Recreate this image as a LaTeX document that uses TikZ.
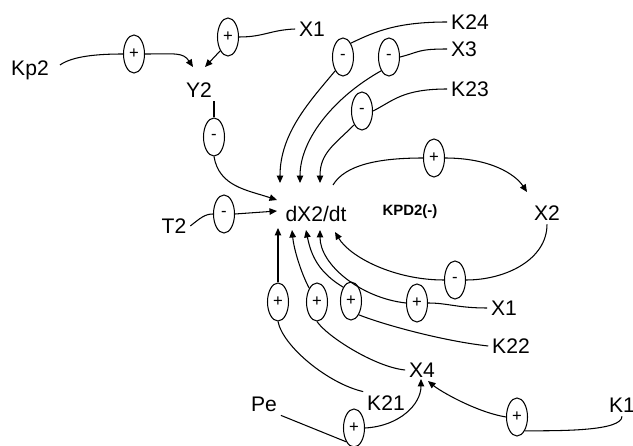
\documentclass[tikz,border=0pt]{standalone}
\usepackage{fontspec}
\setmainfont{Liberation Sans}
\usetikzlibrary{shapes.geometric,arrows.meta}
\begin{document}
\begin{tikzpicture}[x=0.02cm,y=-0.02cm,line width=0.6pt,
  >={Triangle[length=1.5mm,width=1.3mm]},
  lbl/.style={font=\fontsize{12}{14}\selectfont,inner sep=2pt},
  sgn/.style={draw,ellipse,minimum width=0.42cm,minimum height=0.76cm,inner sep=0pt,font=\fontsize{9.5}{9.5}\selectfont}]
\useasboundingbox (0,0) rectangle (633,446);
\node[lbl] (Kp2) at (30,70) {Kp2};
\node[lbl] (X1a) at (312,29) {X1};
\node[lbl] (Y2) at (199,90) {Y2};
\node[lbl] (K24) at (470,22) {K24};
\node[lbl] (X3) at (464,49) {X3};
\node[lbl] (K23) at (470,89) {K23};
\node[lbl] (dX) at (316,214) {dX2/dt};
\node[font=\fontsize{8.5}{9}\selectfont\bfseries] (KPD) at (410,212) {KPD2(-)};
\node[lbl] (X2) at (547,213) {X2};
\node[lbl] (T2) at (174,226) {T2};
\node[lbl] (X1b) at (504,308) {X1};
\node[lbl] (K22) at (511,346) {K22};
\node[lbl] (X4) at (422,370) {X4};
\node[lbl] (K21) at (386,403) {K21};
\node[lbl] (Pe) at (264,404) {Pe};
\node[lbl] (K1) at (622,405) {K1};
\node[sgn] (s1) at (134,54) {+};
\node[sgn] (s2) at (228,37) {+};
\node[sgn] (s3) at (214,137) {-};
\node[sgn] (s4) at (224,214) {-};
\node[sgn] (s5) at (343,57) {-};
\node[sgn] (s6) at (389,57) {-};
\node[sgn] (s7) at (362,111) {-};
\node[sgn] (s8) at (434,158) {+};
\node[sgn] (s9) at (455,280) {-};
\node[sgn] (s10) at (417,303) {+};
\node[sgn] (s11) at (278,302) {+};
\node[sgn] (s12) at (317,302) {+};
\node[sgn] (s13) at (351,301) {+};
\node[sgn] (s14) at (354,428) {+};
\node[sgn] (s15) at (517,417) {+};
\coordinate (tY2a) at (193,67);
\coordinate (tY2b) at (205,67);
\coordinate (tTop1) at (280,183);
\coordinate (tTop2) at (300,183);
\coordinate (tTop3) at (320,183);
\coordinate (tL1) at (277,200);
\coordinate (tL2) at (277,211);
\coordinate (tB1) at (278,228);
\coordinate (tB2) at (292,230);
\coordinate (tB3) at (306,230);
\coordinate (tB4) at (320,230);
\coordinate (tB5) at (335,232);
\coordinate (dXo) at (333,185);
\coordinate (tX2) at (527,192);
\coordinate (tX4a) at (421,379);
\coordinate (tX4b) at (428,381);
\draw[shorten <=5pt] (Kp2.east) .. controls +(20,-14) and +(-25,0) .. (s1.west);
\draw[->] (s1.east) .. controls +(30,0) and +(-10,-15) .. (tY2a);
\draw (X1a.west) .. controls +(-25,1) and +(25,0) .. (s2.east);
\draw[->] (s2.south west) -- (tY2b);
\draw (s3.north) -- (s3.north |- Y2.south);
\draw[->] (s3.south) .. controls +(5,30) and +(-30,-10) .. (tL1);
\draw (T2.east) .. controls +(10,-8) and +(-8,0) .. (s4.west);
\draw[->] (s4.east) -- (tL2);
\draw (K24.west) .. controls +(-50,0) and +(25,-12) .. (s5.north east);
\draw[->] (s5.south west) .. controls +(-25,30) and +(0,-50) .. (tTop1);
\draw (X3.west) .. controls +(-30,0) and +(20,-5) .. (s6.east);
\draw[->] (s6.south west) .. controls +(-45,25) and +(0,-45) .. (tTop2);
\draw (K23.west) .. controls +(-45,0) and +(20,-10) .. (s7.east);
\draw[->] (s7.south west) .. controls +(-20,20) and +(0,-30) .. (tTop3);
\draw (dXo) .. controls +(12,-20) and +(-45,0) .. (s8.west);
\draw[->] (s8.east) .. controls +(45,0) and +(-12,-18) .. (tX2);
\draw (X2.south) .. controls +(0,35) and +(40,0) .. (s9.east);
\draw[->] (s9.west) .. controls +(-50,0) and +(15,25) .. (tB5);
\draw (X1b.west) .. controls +(-30,0) and +(20,0) .. (s10.east);
\draw[->] (s10.west) .. controls +(-45,-5) and +(0,35) .. (tB4);
\draw (K22.west) .. controls +(-45,-5) and +(25,10) .. (s13.south east);
\draw[->] (s13.north west) .. controls +(-25,-15) and +(5,25) .. (tB3);
\draw (X4.west) .. controls +(-30,-3) and +(10,15) .. (s12.south);
\draw[->] (s12.north west) .. controls +(-8,-15) and +(2,20) .. (tB2);
\draw (K21.north west) .. controls +(-35,-8) and +(5,25) .. (s11.south);
\draw[->] (s11.north) -- (tB1);
\draw (Pe.south east) -- (s14.south west);
\draw[->] (s14.east) .. controls +(35,-2) and +(0,25) .. (tX4a);
\draw (K1.south) .. controls +(0,15) and +(35,0) .. (s15.south east);
\draw[->] (s15.west) .. controls +(-30,-5) and +(12,10) .. (tX4b);
\end{tikzpicture}
\end{document}
